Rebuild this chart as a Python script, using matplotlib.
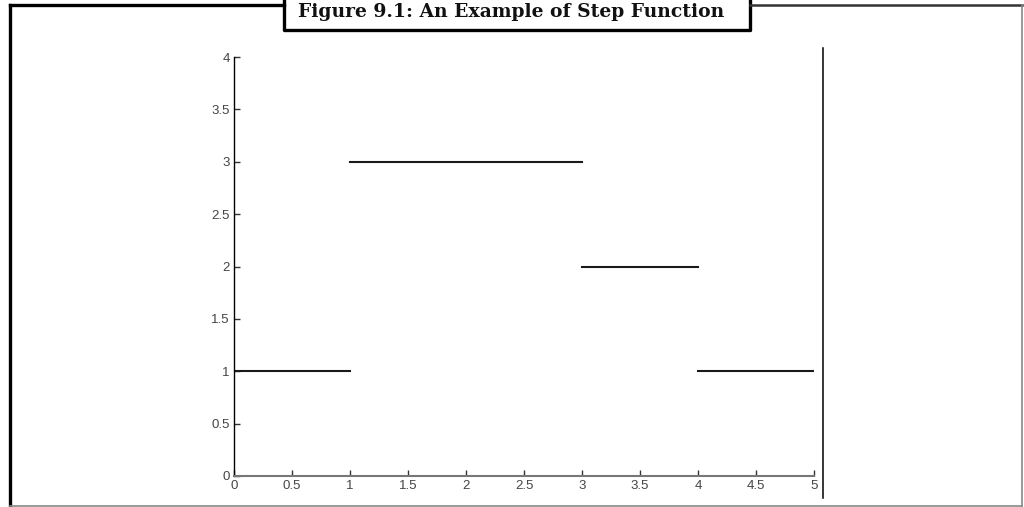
import matplotlib
matplotlib.use("Agg")
import matplotlib.pyplot as plt
from matplotlib.lines import Line2D

W, H = 1024, 507

# step function pieces: (start, end, value)
step_starts = [0, 1, 3, 4]
step_ends = [1, 3, 4, 5]
step_values = [1, 3, 2, 1]

x_ticks = [0, 0.5, 1, 1.5, 2, 2.5, 3, 3.5, 4, 4.5, 5]
x_labels = ["0", "0.5", "1", "1.5", "2", "2.5", "3", "3.5", "4", "4.5", "5"]
y_ticks = [0, 0.5, 1, 1.5, 2, 2.5, 3, 3.5, 4]
y_labels = ["0", "0.5", "1", "1.5", "2", "2.5", "3", "3.5", "4"]

title = "Figure 9.1: An Example of Step Function"


def fx(x):
    return x / W


def fy(y):
    return 1 - y / H


def frame_line(fig, xs, ys, color="black", lw=2.2):
    fig.add_artist(Line2D([fx(v) for v in xs], [fy(v) for v in ys],
                          transform=fig.transFigure, color=color, lw=lw,
                          solid_capstyle="projecting"))


fig = plt.figure(figsize=(W / 100, H / 100), dpi=100)
ax = fig.add_axes([fx(234), fy(476), fx(814) - fx(234), fy(57) - fy(476)])

for x0, x1, v in zip(step_starts, step_ends, step_values):
    ax.plot([x0, x1], [v, v], color="#1a1a1a", lw=1.5)

ax.set_xlim(0, 5)
ax.set_ylim(0, 4)
ax.set_xticks(x_ticks)
ax.set_xticklabels(x_labels)
ax.set_yticks(y_ticks)
ax.set_yticklabels(y_labels)
ax.tick_params(direction="in", length=4, width=1, colors="#333333",
               labelsize=9.5, pad=3)
for lab in ax.get_xticklabels() + ax.get_yticklabels():
    lab.set_fontfamily("Liberation Sans")
    lab.set_color("#444444")

ax.spines["top"].set_visible(False)
ax.spines["right"].set_visible(False)
ax.spines["left"].set_color("black")
ax.spines["left"].set_linewidth(1)
ax.spines["bottom"].set_color("#777777")
ax.spines["bottom"].set_linewidth(1.5)

# the separate vertical rule at the right of the plot
frame_line(fig, [823, 823], [48, 498], lw=1.1)

# outer frame with title box
frame_line(fig, [10, 10], [5, 507], lw=2.4)
frame_line(fig, [10, 284], [5, 5], lw=2.4)
frame_line(fig, [284, 284, 750, 750], [-2, 30, 30, -2], lw=2.4)
frame_line(fig, [750, 1022], [5, 5], color="#333333", lw=1.8)
frame_line(fig, [1022, 1022], [5, 507], color="#888888", lw=1.2)
frame_line(fig, [10, 1022], [506, 506], color="#888888", lw=1.2)

fig.text(fx(511), fy(17), title, ha="center", va="baseline",
         fontsize=13.5, fontweight="bold", family="DejaVu Serif",
         color="#111111")

fig.savefig("out.png", dpi=100)
